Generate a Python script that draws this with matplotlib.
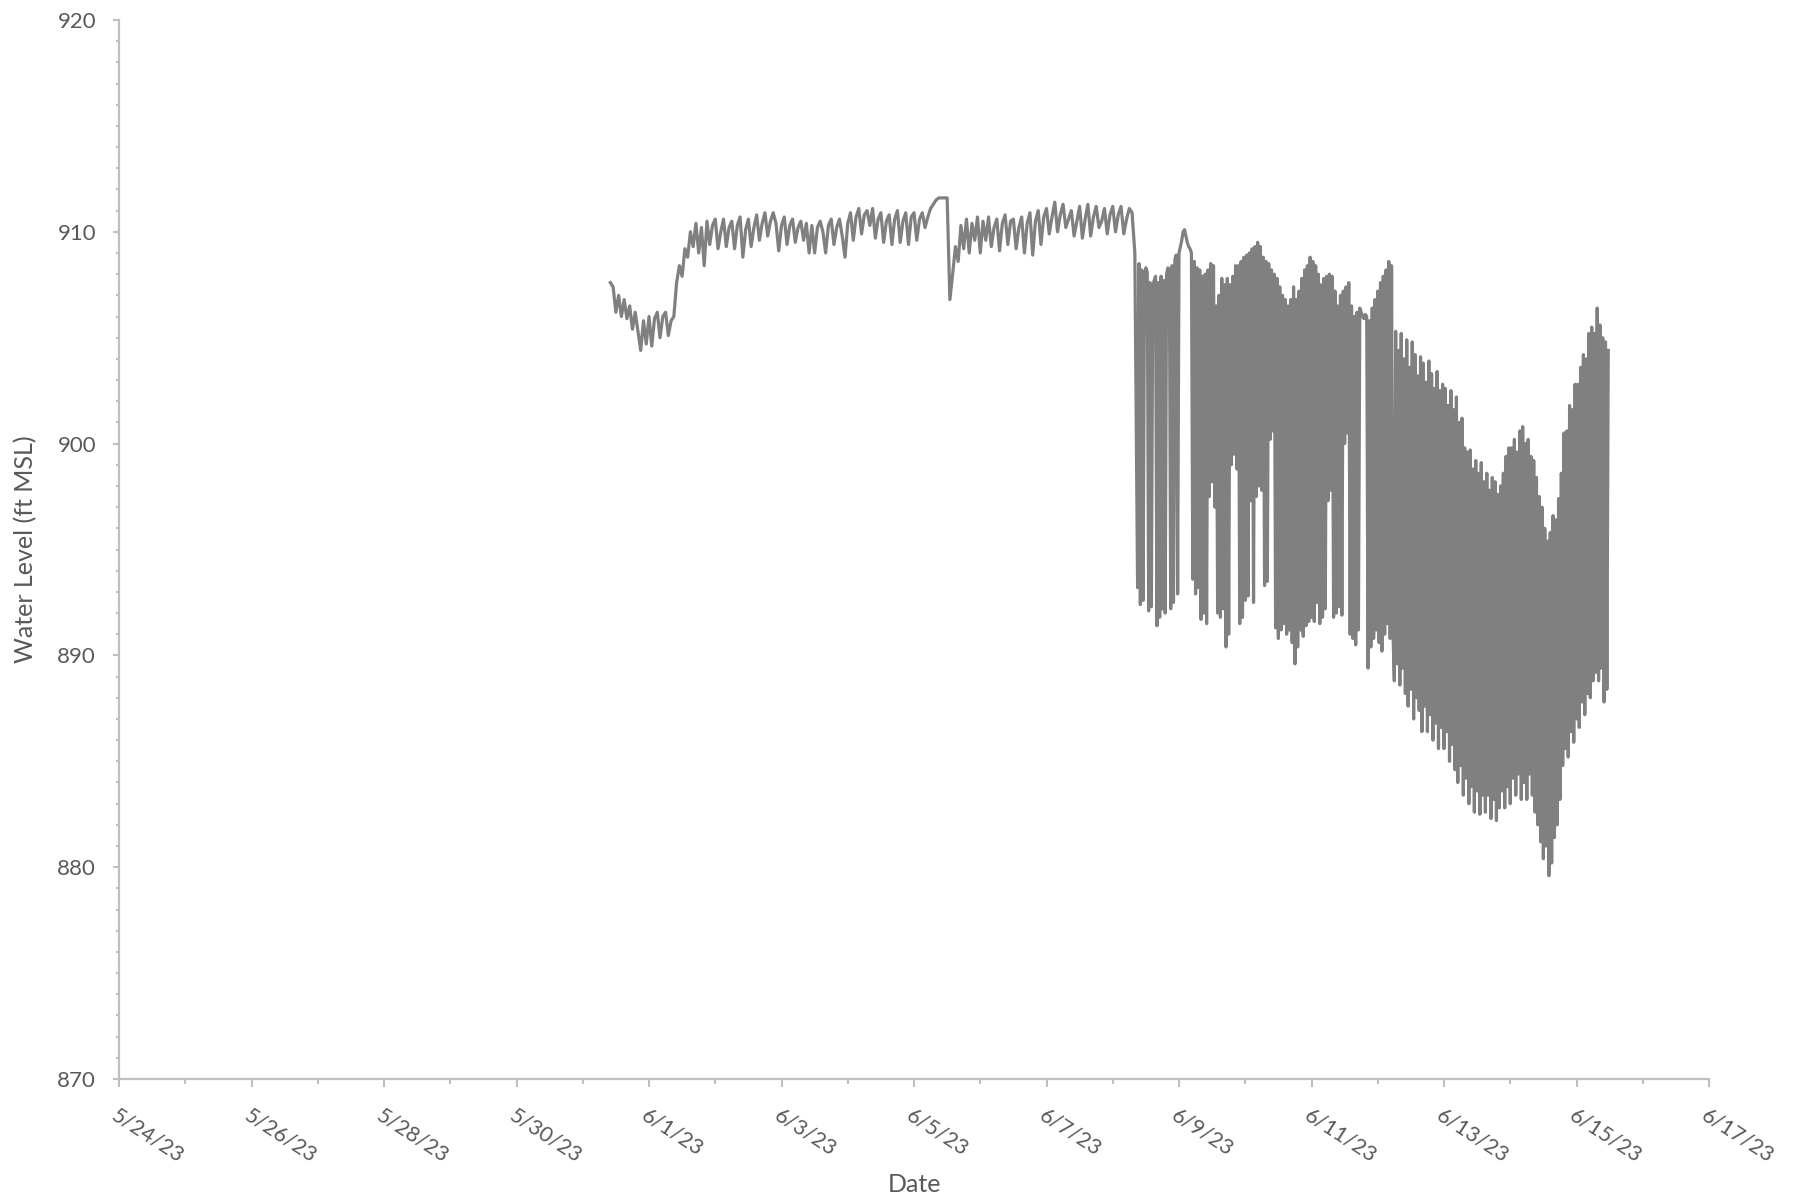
import matplotlib
matplotlib.use("Agg")
import matplotlib.pyplot as plt
import matplotlib.dates as mdates
from matplotlib.ticker import MultipleLocator
import pandas as pd

# ---------------- data ----------------
# Part A: hourly readings from 5/31/23 10:00 to 6/8/23 08:00
start_hourly = "2023-05-31 10:00"
level_0531 = [907.6, 907.4, 906.2, 907.0, 906.0, 906.8, 905.9, 906.5, 905.4, 906.2,
              905.3, 904.4, 905.8, 904.7]
level_0601 = [906.0, 904.6, 905.9, 906.2, 905.0, 906.0, 906.2, 905.1, 905.8, 906.0,
              907.6, 908.4, 907.9, 909.2, 908.8, 910.0, 909.3, 910.4, 909.0, 910.2,
              908.4, 910.5, 909.4, 910.3]
level_0602 = [910.6, 909.2, 910.0, 910.6, 909.3, 910.2, 910.5, 909.2, 910.3, 910.7,
              908.8, 910.1, 910.6, 909.3, 910.2, 910.8, 909.6, 910.4, 910.9, 909.8,
              910.5, 910.9, 910.4, 909.1]
level_0603 = [910.3, 910.7, 909.4, 910.3, 910.6, 909.5, 910.2, 910.5, 909.6, 910.4,
              909.0, 910.3, 909.0, 910.2, 910.5, 910.0, 909.0, 910.3, 910.6, 909.4,
              910.2, 910.6, 909.8, 908.8]
level_0604 = [910.4, 910.9, 909.6, 910.7, 911.1, 909.9, 910.8, 911.0, 910.3, 911.1,
              909.7, 910.6, 910.9, 909.5, 910.5, 910.8, 909.4, 910.6, 911.0, 909.5,
              910.5, 910.9, 909.4, 910.7]
level_0605 = [910.9, 909.6, 910.6, 910.9, 910.2, 910.7, 911.1, 911.3, 911.5, 911.6,
              911.6, 911.6, 911.6, 906.8, 908.0, 909.3, 908.6, 910.3, 909.2, 910.6,
              909.0, 910.4, 909.6, 910.7]
level_0606 = [909.0, 910.5, 909.6, 910.7, 909.3, 910.2, 910.6, 909.1, 910.4, 910.8,
              909.4, 910.5, 910.6, 909.2, 910.2, 910.7, 909.0, 910.4, 910.9, 908.9,
              910.5, 911.0, 909.4, 910.7]
level_0607 = [911.1, 909.9, 910.7, 911.4, 910.0, 910.8, 911.3, 910.2, 910.6, 911.0,
              909.8, 910.5, 911.2, 909.7, 910.6, 911.3, 909.8, 910.7, 911.2, 910.2,
              910.5, 911.1, 909.9, 910.8]
level_0608a = [911.2, 910.0, 910.8, 911.2, 909.9, 910.6, 911.1, 910.9, 909.0]

# Part B: half-hourly readings from 6/8/23 09:00 to 6/15/23 11:30
start_halfhourly = "2023-06-08 09:00"
level_0608b = [893.2, 908.5, 892.4, 908.2, 892.6, 908.0, 908.3, 908.1, 892.1, 907.6,
               892.3, 907.4, 907.7, 907.9, 891.4, 907.6, 891.8, 907.9, 892.2, 907.7,
               892.0, 908.0, 908.3, 908.2, 892.2, 908.4, 892.5, 908.7, 908.9, 892.9]
level_0609 = [909.0, 909.3, 909.6, 910.0, 910.1, 909.8, 909.5, 909.3, 909.2, 909.0,
              893.6, 908.6, 892.9, 908.3, 893.2, 908.2, 891.7, 907.9, 892.0, 908.0,
              891.5, 908.2, 897.5, 908.5, 898.2, 908.4, 897.0, 906.5, 892.0, 907.0,
              891.8, 907.8, 892.2, 907.5, 890.4, 907.8, 891.0, 907.5, 899.0, 907.9,
              899.5, 908.4, 898.8, 908.4, 891.5, 908.6, 891.8, 908.8]
level_0610 = [892.6, 908.9, 892.8, 909.0, 897.3, 909.2, 892.5, 909.3, 897.5, 909.5,
              898.0, 909.3, 897.8, 908.8, 893.3, 908.6, 893.5, 908.5, 900.2, 908.2,
              900.6, 908.0, 891.3, 907.8, 890.8, 907.4, 891.2, 907.0, 891.5, 906.8,
              891.0, 906.5, 891.2, 906.8, 890.6, 907.4, 889.6, 906.8, 890.4, 907.2,
              891.2, 907.8, 890.9, 908.2, 891.4, 908.4, 891.6, 908.8]
level_0611 = [891.8, 908.6, 891.6, 908.4, 892.5, 908.0, 891.5, 907.5, 891.8, 907.8,
              892.2, 907.9, 897.3, 908.0, 897.8, 907.9, 891.8, 907.2, 892.0, 906.5,
              892.3, 907.0, 891.9, 907.2, 900.0, 907.4, 900.5, 907.6, 891.0, 906.5,
              890.8, 906.0, 890.5, 906.2, 891.2, 906.4, 906.2, 906.0, 905.9, 906.1,
              906.0, 889.4, 905.8, 890.4, 906.4, 890.8, 906.8, 891.2]
level_0612 = [907.2, 890.6, 907.6, 890.2, 907.9, 891.0, 908.2, 891.5, 908.6, 890.8,
              908.4, 891.2, 888.8, 905.3, 889.6, 904.4, 888.6, 905.2, 889.4, 904.0,
              888.2, 904.9, 887.6, 903.6, 888.4, 904.8, 887.0, 904.2, 888.0, 903.2,
              887.4, 904.1, 886.4, 903.8, 887.6, 902.9, 886.4, 903.9, 887.2, 903.3,
              886.0, 902.6, 886.8, 903.4, 885.6, 902.5, 886.6, 902.8]
level_0613 = [885.6, 902.6, 886.4, 901.8, 885.0, 902.5, 885.8, 901.6, 884.6, 902.2,
              884.0, 901.0, 884.8, 901.2, 883.4, 899.8, 884.2, 899.6, 883.0, 899.7,
              883.8, 898.8, 882.6, 899.2, 883.6, 898.6, 882.5, 899.1, 883.4, 898.2,
              882.6, 898.6, 883.4, 897.8, 882.3, 898.4, 883.2, 898.2, 882.2, 897.6,
              882.8, 898.0, 883.6, 898.6, 882.8, 899.4, 883.8, 899.8]
level_0614 = [883.0, 899.8, 884.2, 900.2, 883.4, 899.6, 884.4, 900.6, 883.2, 900.8,
              884.0, 900.0, 883.2, 900.2, 884.4, 899.4, 883.4, 899.2, 882.6, 898.4,
              882.0, 897.5, 881.2, 897.0, 880.4, 896.0, 881.0, 895.4, 879.6, 895.8,
              880.2, 896.6, 881.4, 896.4, 882.0, 897.4, 883.2, 898.6, 884.8, 900.5,
              885.6, 900.6, 885.2, 901.8, 886.4, 901.6, 885.9, 902.8]
level_0615 = [887.0, 902.8, 886.6, 903.6, 887.8, 904.2, 887.2, 904.0, 888.2, 905.2,
              888.0, 905.5, 888.8, 905.2, 889.2, 906.4, 888.8, 905.6, 889.4, 905.0,
              887.8, 904.8, 888.4, 904.4]

x_tick_labels = ["5/24/23", "5/26/23", "5/28/23", "5/30/23", "6/1/23", "6/3/23",
                 "6/5/23", "6/7/23", "6/9/23", "6/11/23", "6/13/23", "6/15/23",
                 "6/17/23"]
y_ticks = [870, 880, 890, 900, 910, 920]
x_label = "Date"
y_label = "Water Level (ft MSL)"

levels_a = (level_0531 + level_0601 + level_0602 + level_0603 + level_0604 +
            level_0605 + level_0606 + level_0607 + level_0608a)
levels_b = (level_0608b + level_0609 + level_0610 + level_0611 + level_0612 +
            level_0613 + level_0614 + level_0615)
times_a = pd.date_range(start_hourly, periods=len(levels_a), freq="h")
times_b = pd.date_range(start_halfhourly, periods=len(levels_b), freq="30min")
times = times_a.append(times_b)
levels = levels_a + levels_b

# ---------------- plot ----------------
plt.rcParams['font.family'] = ['Lato', 'DejaVu Sans']
W, H = 1797, 1204
fig = plt.figure(figsize=(W / 100, H / 100), dpi=100)
left, right, bottom, top = 119 / W, 1709 / W, 1 - 1079 / H, 1 - 20 / H
ax = fig.add_axes([left, bottom, right - left, top - bottom])

ax.plot(times, levels, color='#808080', lw=2.3, solid_joinstyle='round')

tick_dates = pd.to_datetime(x_tick_labels, format="%m/%d/%y")
ax.set_xlim(tick_dates[0], tick_dates[-1])
ax.set_xticks(tick_dates)
ax.set_xticklabels(x_tick_labels, rotation=-33, ha='left', va='top',
                   rotation_mode='anchor')
ax.xaxis.set_minor_locator(mdates.DayLocator())

ax.set_ylim(y_ticks[0], y_ticks[-1])
ax.set_yticks(y_ticks)
ax.yaxis.set_minor_locator(MultipleLocator(1))

for s in ['top', 'right']:
    ax.spines[s].set_visible(False)
for s in ['left', 'bottom']:
    ax.spines[s].set_color('#BFBFBF')
    ax.spines[s].set_linewidth(1.6)

ax.tick_params(axis='both', which='both', color='#BFBFBF', width=1.5,
               labelcolor='#595959', direction='out')
ax.tick_params(axis='y', which='major', length=4.5, pad=12, labelsize=16)
ax.tick_params(axis='y', which='minor', length=2.5)
ax.tick_params(axis='x', which='major', length=6, pad=13, labelsize=15.5)
ax.tick_params(axis='x', which='minor', length=3.5)

fig.text(26 / W, 1 - 549.5 / H, y_label, rotation=90, ha='center', va='center',
         fontsize=18, color='#595959')
fig.text(914 / W, 1 - 1185 / H, x_label, ha='center', va='center',
         fontsize=18, color='#595959')

fig.savefig("out.png", dpi=100)
